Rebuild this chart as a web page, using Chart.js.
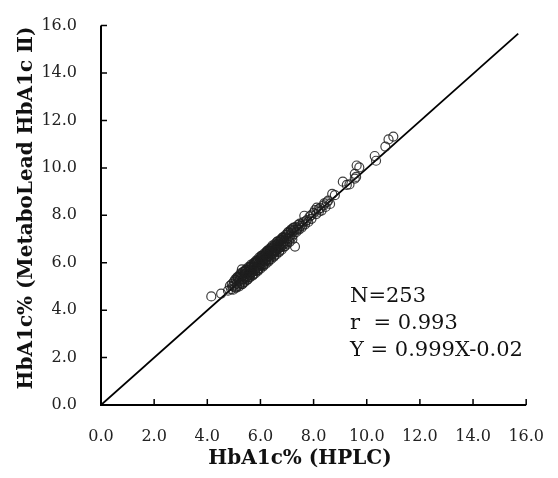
<!DOCTYPE html>
<html>
<head>
<meta charset="utf-8">
<script src="https://cdn.jsdelivr.net/npm/chart.js@4.4.1/dist/chart.umd.min.js"></script>
<style>
  html, body { margin: 0; padding: 0; background: #fff; }
  #wrap { width: 558px; height: 478px; }
</style>
</head>
<body>
<div id="wrap"><canvas id="chart"></canvas></div>
<script>
// HbA1c by HPLC (x) vs MetaboLead HbA1c II (y)
const hplcValues = [
  4.15, 4.52, 4.78, 4.85, 4.90, 4.92, 4.95, 4.98, 5.00, 5.02,
  5.05, 5.08, 5.10, 5.12, 5.15, 5.18, 5.20, 5.20, 5.22, 5.25,
  5.25, 5.28, 5.30, 5.30, 5.32, 5.35, 5.35, 5.38, 5.40, 5.40,
  5.42, 5.45, 5.45, 5.48, 5.50, 5.50, 5.52, 5.55, 5.55, 5.58,
  5.60, 5.60, 5.62, 5.65, 5.65, 5.68, 5.70, 5.70, 5.72, 5.75,
  5.75, 5.78, 5.80, 5.80, 5.82, 5.85, 5.85, 5.88, 5.90, 5.90,
  5.92, 5.95, 5.95, 5.98, 6.00, 6.00, 6.02, 6.05, 6.05, 6.08,
  6.10, 6.10, 6.12, 6.15, 6.15, 6.18, 6.20, 6.20, 6.22, 6.25,
  6.25, 6.28, 6.30, 6.30, 6.32, 6.35, 6.35, 6.38, 6.40, 6.40,
  6.42, 6.45, 6.45, 6.48, 6.50, 6.50, 6.52, 6.55, 6.55, 6.58,
  6.60, 6.60, 6.62, 6.65, 6.65, 6.68, 6.70, 6.70, 6.72, 6.75,
  6.75, 6.78, 6.80, 6.82, 6.85, 6.85, 6.88, 6.90, 6.92, 6.95,
  6.98, 7.00, 7.00, 7.05, 7.08, 7.10, 7.12, 7.15, 7.18, 7.20,
  7.22, 7.25, 7.28, 7.30, 7.32, 7.35, 7.40, 7.42, 7.45, 7.50,
  7.55, 7.60, 7.65, 7.68, 7.75, 7.80, 7.85, 7.92, 8.00, 8.05,
  8.10, 8.18, 8.20, 8.25, 8.30, 8.38, 8.45, 8.50, 8.55, 8.62,
  8.70, 8.80, 9.10, 9.25, 9.35, 9.55, 9.55, 9.62, 9.72, 9.60,
  10.30, 10.35, 10.70, 10.82, 11.00,
  5.05, 5.10, 5.15, 5.20, 5.25, 5.30, 5.35, 5.40, 5.45, 5.50,
  5.55, 5.60, 5.65, 5.70, 5.75, 5.80, 5.85, 5.90, 5.95, 6.00,
  6.05, 6.10, 6.15, 6.20, 6.25, 6.30, 6.35, 6.40, 6.45, 6.50,
  6.55, 6.60, 6.65, 6.70, 6.75, 6.80, 6.85, 6.90, 6.95, 7.00,
  7.05, 7.10, 7.15, 7.20, 7.25, 5.12, 5.22, 5.32, 5.42, 5.52,
  5.62, 5.72, 5.82, 5.92, 6.02, 6.12, 6.22, 6.32, 6.42, 6.52,
  6.62, 6.72, 6.82, 6.92, 7.02, 5.58, 5.78, 5.98, 6.18, 6.38,
  6.58, 6.78, 7.38, 7.48, 7.58, 7.70, 7.90, 8.12, 8.40, 6.28,
  6.08, 5.88, 5.68, 5.48
];
const metaboLeadValues = [
  4.58, 4.70, 4.82, 5.02, 4.88, 5.10, 5.00, 4.86, 5.20, 5.05,
  4.95, 5.28, 5.12, 5.00, 5.35, 5.22, 5.08, 5.40, 5.30, 5.15,
  5.55, 5.38, 5.25, 5.72, 5.45, 5.30, 5.60, 5.20, 5.50, 5.42,
  5.65, 5.35, 5.55, 5.70, 5.45, 5.60, 5.38, 5.75, 5.52, 5.62,
  5.48, 5.80, 5.68, 5.55, 5.72, 5.85, 5.60, 5.78, 5.50, 5.90,
  5.70, 5.82, 5.65, 5.95, 5.75, 6.02, 5.80, 5.70, 5.92, 6.10,
  5.85, 6.00, 5.78, 6.15, 5.95, 6.05, 6.20, 5.90, 6.12, 6.00,
  6.25, 6.08, 5.95, 6.30, 6.15, 6.05, 6.40, 6.22, 6.10, 6.35,
  6.20, 6.45, 6.28, 6.15, 6.38, 6.50, 6.30, 6.22, 6.45, 6.60,
  6.38, 6.52, 6.35, 6.62, 6.48, 6.40, 6.70, 6.55, 6.45, 6.62,
  6.75, 6.52, 6.68, 6.58, 6.80, 6.70, 6.62, 6.88, 6.75, 6.65,
  6.92, 6.80, 6.72, 6.98, 6.85, 6.75, 7.05, 6.92, 6.82, 7.10,
  7.00, 6.90, 7.18, 7.05, 7.25, 7.02, 7.15, 7.35, 7.10, 7.28,
  7.45, 7.20, 7.38, 6.68, 7.50, 7.30, 7.45, 7.60, 7.40, 7.55,
  7.48, 7.70, 7.98, 7.62, 7.80, 7.72, 7.95, 7.85, 8.10, 8.22,
  8.05, 8.25, 8.15, 8.30, 8.20, 8.42, 8.35, 8.55, 8.62, 8.48,
  8.90, 8.85, 9.42, 9.28, 9.30, 9.55, 9.75, 10.10, 10.02, 9.62,
  10.50, 10.30, 10.90, 11.20, 11.32,
  5.30, 4.95, 5.40, 5.00, 5.50, 5.10, 5.62, 5.18, 5.72, 5.28,
  5.82, 5.38, 5.92, 5.45, 5.98, 5.55, 6.10, 5.65, 6.22, 5.75,
  6.30, 5.85, 6.40, 5.95, 6.50, 6.05, 6.60, 6.15, 6.72, 6.25,
  6.80, 6.35, 6.90, 6.45, 6.98, 6.55, 7.08, 6.68, 7.18, 6.78,
  7.30, 6.88, 7.40, 6.98, 7.48, 5.38, 5.45, 5.10, 5.65, 5.30,
  5.85, 5.50, 6.05, 5.70, 6.28, 5.90, 6.45, 6.10, 6.65, 6.30,
  6.88, 6.50, 7.05, 6.70, 7.25, 5.40, 6.00, 5.90, 6.35, 6.55,
  6.50, 6.95, 7.40, 7.65, 7.55, 7.75, 8.00, 8.32, 8.50, 6.52,
  6.30, 6.05, 5.62, 5.40
];

// regression line Y = 0.999X - 0.02, drawn across the plot
const fitX = [0, 15.7];
const fitY = [0, 15.66];

const axisTicks = [0, 2, 4, 6, 8, 10, 12, 14, 16];
const xTitle = "HbA1c% (HPLC)";
const yTitle = "HbA1c% (MetaboLead HbA1c \u2161)";
const statLines = ["N=253", "r  = 0.993", "Y = 0.999X-0.02"];

const serif = "'DejaVu Serif', 'Liberation Serif', serif";

const frame = {
  id: "frame",
  afterDraw(chart) {
    const ctx = chart.ctx;
    const x = chart.scales.x, y = chart.scales.y;
    ctx.save();
    ctx.strokeStyle = "#000";
    ctx.lineWidth = 2;
    // axis lines
    ctx.beginPath();
    ctx.moveTo(x.getPixelForValue(0), y.getPixelForValue(16));
    ctx.lineTo(x.getPixelForValue(0), y.getPixelForValue(0));
    ctx.lineTo(x.getPixelForValue(16), y.getPixelForValue(0));
    ctx.stroke();
    // inward tick marks
    ctx.lineWidth = 1.5;
    axisTicks.forEach(v => {
      const px = x.getPixelForValue(v), py = y.getPixelForValue(v);
      ctx.beginPath();
      ctx.moveTo(px, y.getPixelForValue(0));
      ctx.lineTo(px, y.getPixelForValue(0) - 6);
      ctx.moveTo(x.getPixelForValue(0), py);
      ctx.lineTo(x.getPixelForValue(0) + 6, py);
      ctx.stroke();
    });

    // axis titles
    ctx.fillStyle = "#111";
    ctx.font = "bold 20px " + serif;
    ctx.textAlign = "center";
    ctx.textBaseline = "middle";
    ctx.fillText(xTitle, 300, 459);
    ctx.translate(27, 208);
    ctx.rotate(-Math.PI / 2);
    ctx.fillText(yTitle, 0, 0);
    ctx.restore();

    // statistics
    ctx.save();
    ctx.fillStyle = "#111";
    ctx.font = "21px " + serif;
    ctx.textAlign = "left";
    ctx.textBaseline = "alphabetic";
    statLines.forEach((t, i) => ctx.fillText(t, 350, 302 + i * 27));
    ctx.restore();
  }
};

const points = hplcValues.map((v, i) => ({ x: v, y: metaboLeadValues[i] }));
const fitLine = fitX.map((v, i) => ({ x: v, y: fitY[i] }));

new Chart(document.getElementById("chart"), {
  type: "scatter",
  data: {
    datasets: [
      {
        label: "samples",
        data: points,
        pointRadius: 4.5,
        pointBorderWidth: 1.2,
        borderColor: "rgba(30,30,30,0.85)",
        backgroundColor: "rgba(0,0,0,0)"
      },
      {
        type: "line",
        label: "fit",
        data: fitLine,
        borderColor: "#000",
        borderWidth: 1.8,
        pointRadius: 0,
        fill: false
      }
    ]
  },
  options: {
    responsive: true,
    maintainAspectRatio: false,
    animation: false,
    events: [],
    layout: { padding: { top: 20, right: 27, left: 0, bottom: 0 } },
    plugins: { legend: { display: false }, tooltip: { enabled: false } },
    scales: {
      x: {
        type: "linear",
        min: 0, max: 16,
        grid: { display: false },
        border: { display: false },
        afterFit: s => { s.height = 73; },
        ticks: {
          stepSize: 2,
          padding: 14,
          color: "#222",
          font: { family: serif, size: 16 },
          callback: v => v.toFixed(1)
        }
      },
      y: {
        type: "linear",
        min: 0, max: 16,
        grid: { display: false },
        border: { display: false },
        afterFit: s => { s.width = 101; },
        ticks: {
          stepSize: 2,
          padding: 16,
          color: "#222",
          font: { family: serif, size: 16 },
          callback: v => v.toFixed(1)
        }
      }
    }
  },
  plugins: [frame]
});
</script>
</body>
</html>
